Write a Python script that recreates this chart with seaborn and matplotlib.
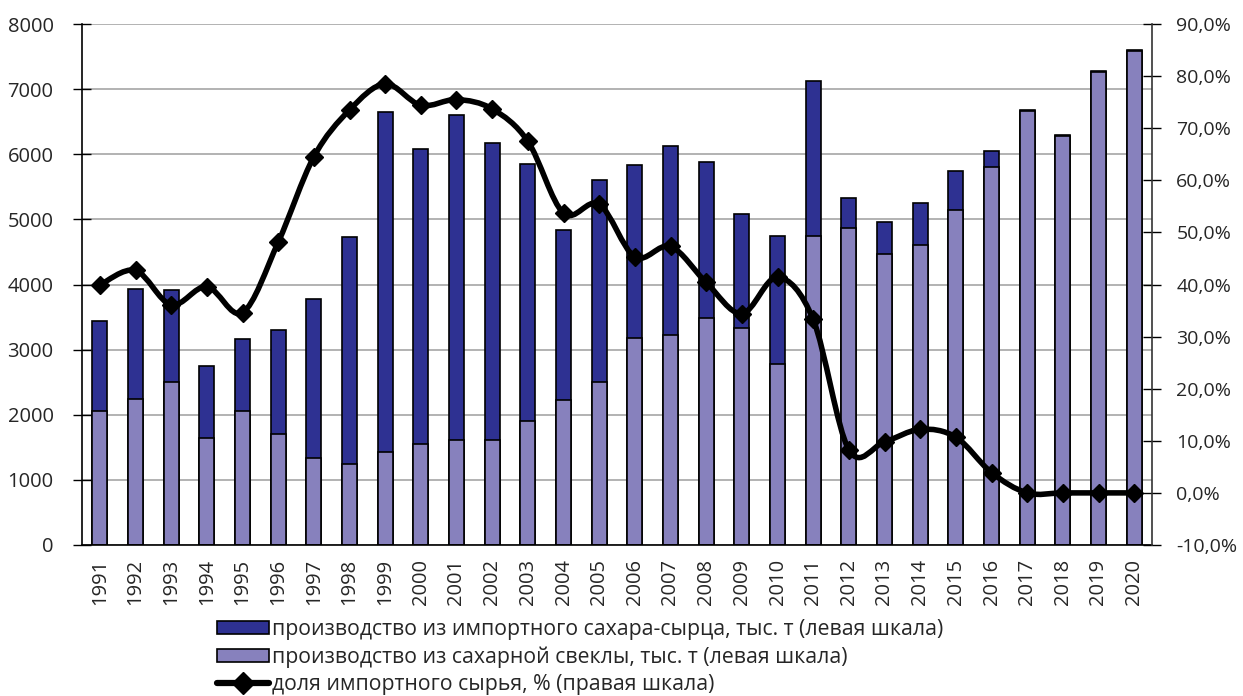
import matplotlib
matplotlib.use("Agg")
import matplotlib.pyplot as plt
from matplotlib.lines import Line2D
from matplotlib.patches import Patch, PathPatch
from matplotlib.path import Path
from matplotlib.ticker import FuncFormatter, MultipleLocator
import numpy as np
import seaborn as sns

YEARS = [str(y) for y in range(1991, 2021)]

# производство из сахарной свеклы, тыс. т
BEET = [2056, 2243, 2497, 1645, 2056, 1703, 1333, 1251, 1427, 1556,
        1615, 1615, 1897, 2232, 2508, 3184, 3225, 3483, 3330, 2779,
        4752, 4875, 4470, 4611, 5140, 5797, 6661, 6273, 7266, 7590]

# производство из импортного сахара-сырца, тыс. т
RAW_IMPORT = [1380, 1681, 1420, 1098, 1104, 1597, 2438, 3477, 5222, 4523,
              4981, 4552, 3948, 2602, 3100, 2649, 2901, 2391, 1750, 1973,
              2379, 452, 493, 640, 604, 247, 20, 18, 14, 18]

# доля импортного сырья, %
SHARE = [39.9, 42.7, 36.1, 39.6, 34.6, 48.1, 64.5, 73.5, 78.5, 74.4,
         75.5, 73.7, 67.5, 53.7, 55.4, 45.3, 47.3, 40.4, 34.4, 41.4,
         33.3, 8.3, 9.8, 12.2, 10.7, 3.9, 0.0, 0.0, 0.0, 0.0]

LABELS = [
    "производство из импортного сахара-сырца, тыс. т (левая шкала)",
    "производство из сахарной свеклы, тыс. т (левая шкала)",
    "доля импортного сырья, % (правая шкала)",
]

DARK = "#2E3192"
LIGHT = "#8781BD"
GRID = "#a6a6a6"


def smooth_path(xs, ys, tension=1 / 6):
    # Excel-style smoothed line: Catmull-Rom segments as cubic Bezier
    pts = np.column_stack([xs, ys]).astype(float)
    n = len(pts)
    verts = [pts[0]]
    codes = [Path.MOVETO]
    for i in range(n - 1):
        p0 = pts[i - 1] if i > 0 else pts[i]
        p1 = pts[i]
        p2 = pts[i + 1]
        p3 = pts[i + 2] if i + 2 < n else pts[i + 1]
        c1 = p1 + (p2 - p0) * tension
        c2 = p2 - (p3 - p1) * tension
        verts += [c1, c2, p2]
        codes += [Path.CURVE4] * 3
    return Path(verts, codes)


sns.set_style("white")
plt.rcParams["font.family"] = ["Open Sans", "DejaVu Sans"]

fig, ax = plt.subplots(figsize=(12.43, 6.96), dpi=100)
fig.subplots_adjust(left=82 / 1243, right=1152 / 1243,
                    top=1 - 24 / 696, bottom=1 - 545 / 696)

total = [b + r for b, r in zip(BEET, RAW_IMPORT)]
sns.barplot(x=YEARS, y=total, color=DARK, saturation=1, width=0.42,
            edgecolor="black", linewidth=1.2, errorbar=None, ax=ax)
sns.barplot(x=YEARS, y=BEET, color=LIGHT, saturation=1, width=0.42,
            edgecolor="black", linewidth=1.2, errorbar=None, ax=ax)

ax.set_xlim(-0.5, len(YEARS) - 0.5)
ax.set_ylim(0, 8000)
ax.yaxis.set_major_locator(MultipleLocator(1000))
ax.yaxis.grid(True, color=GRID, lw=1.2)
ax.xaxis.grid(False)
ax.set_axisbelow(True)
ax.set_xlabel("")
ax.set_ylabel("")

ax.set_xticks(range(len(YEARS)))
ax.set_xticklabels(YEARS, rotation=90, fontsize=14.5)
ax.set_xticks(np.arange(-0.5, len(YEARS), 1), minor=True)
ax.tick_params(axis="x", which="major", direction="inout", length=10,
               width=1, color="black", pad=5)
ax.tick_params(axis="x", which="minor", direction="out", length=8,
               width=1, color="black")
ax.tick_params(axis="y", direction="inout", length=13, width=1,
               color="black", labelsize=14.5, pad=14)

for side in ["top", "right"]:
    ax.spines[side].set_visible(False)
for side in ["left", "bottom"]:
    ax.spines[side].set_color("black")
    ax.spines[side].set_linewidth(1.2)

ax2 = ax.twinx()
ax2.set_ylim(-10, 90)
ax2.yaxis.set_major_locator(MultipleLocator(10))
ax2.yaxis.set_major_formatter(
    FuncFormatter(lambda v, _: f"{v:.1f}%".replace(".", ",")))
ax2.tick_params(axis="y", direction="inout", length=13, width=1,
                color="black", labelsize=14, pad=11)
ax2.grid(False)
for side in ["top", "left", "bottom"]:
    ax2.spines[side].set_visible(False)
ax2.spines["right"].set_color("#333333")
ax2.spines["right"].set_linewidth(1.2)

xs = np.arange(len(YEARS))
ax2.add_patch(PathPatch(smooth_path(xs, SHARE), fill=False,
                        edgecolor="black", lw=4, capstyle="round",
                        joinstyle="round"))
ax2.plot(xs, SHARE, linestyle="none", marker="D", markersize=9,
         color="black")

handles = [
    Patch(facecolor=DARK, edgecolor="black", linewidth=1.2),
    Patch(facecolor=LIGHT, edgecolor="black", linewidth=1.2),
    Line2D([], [], color="black", lw=4.5, marker="D", markersize=11),
]
fig.legend(handles, LABELS, loc="upper left",
           bbox_to_anchor=(217 / 1243, 1 - 619 / 696), frameon=False,
           borderpad=0, borderaxespad=0, handlelength=2.45,
           handleheight=0.55, handletextpad=0.12, labelspacing=0.3,
           prop={"family": ["Open Sans", "DejaVu Sans"], "size": 15.3})

fig.savefig("out.png", dpi=100)
